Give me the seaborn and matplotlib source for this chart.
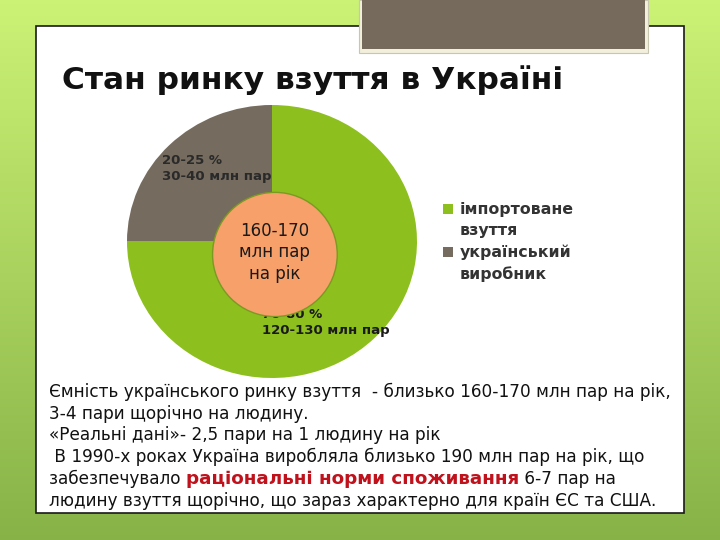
import numpy as np
import matplotlib
matplotlib.use("Agg")
import matplotlib.pyplot as plt
import seaborn as sns
from matplotlib.patches import Rectangle, Ellipse
from matplotlib.legend_handler import HandlerPatch

sns.set_theme(style="white")
plt.rcParams['font.family'] = ['DejaVu Sans']

# data
segments = ["імпортоване\nвзуття", "український\nвиробник"]
shares = [75, 25]
slice_labels = ["70-80 %\n120-130 млн пар", "20-25 %\n30-40 млн пар"]
center_label = "160-170\nмлн пар\nна рік"
title = "Стан ринку взуття в Україні"
body_lines = [
    "Ємність українського ринку взуття  - близько 160-170 млн пар на рік,",
    "3-4 пари щорічно на людину.",
    "«Реальні дані»- 2,5 пари на 1 людину на рік",
    " В 1990-х роках Україна виробляла близько 190 млн пар на рік, що",
]
line5 = ["забезпечувало ", "раціональні норми споживання", " 6-7 пар на"]
line6 = "людину взуття щорічно, що зараз характерно для країн ЄС та США."

colors = ["#8dbf1e", "#756b5e"]


def top_square(legend, orig_handle, xdescent, ydescent, width, height, fontsize):
    # put the square next to the first line of a two-line label
    return Rectangle((-xdescent, -ydescent + 0.72 * fontsize), width, height)


fig = plt.figure(figsize=(7.2, 5.4), dpi=100)

# slide background
bg = fig.add_axes([0, 0, 1, 1])
bg.set_xlim(0, 720)
bg.set_ylim(540, 0)
bg.axis("off")
grad = np.linspace(0, 1, 256)[:, None]
top = np.array([0.80, 0.95, 0.46])
bot = np.array([0.53, 0.70, 0.28])
img = top[None, None, :] * (1 - grad[..., None]) + bot[None, None, :] * grad[..., None]
img = np.repeat(img, 2, axis=1)
bg.imshow(img, extent=(0, 720, 540, 0), aspect="auto", zorder=0)
bg.add_patch(Rectangle((36, 26), 648, 487, facecolor="white", edgecolor="#1a1a1a", lw=1.2, zorder=1))
bg.add_patch(Rectangle((359, 0), 289, 53, facecolor="#f2f0dc", edgecolor="#c8c6b0", lw=0.8, zorder=2))
bg.add_patch(Rectangle((362, 0), 283, 49, facecolor="#756a5c", edgecolor="none", zorder=3))

bg.text(62, 80, title, fontsize=22.5, fontweight="bold", color="#111111", va="center", ha="left", zorder=4)

fs = 12.2
y0, dy = 392, 21.7
for i, line in enumerate(body_lines):
    bg.text(49, y0 + i * dy, line, fontsize=fs, color="#111111", va="center", ha="left", zorder=4)
t = bg.text(49, y0 + 4 * dy, line5[0], fontsize=fs, color="#111111", va="center", ha="left", zorder=4)
t2 = bg.annotate(line5[1], xy=(1, 0.5), xycoords=t, va="center", ha="left",
                 fontsize=13.2, fontweight="bold", color="#c0121c", zorder=4)
bg.annotate(line5[2], xy=(1, 0.5), xycoords=t2, va="center", ha="left",
            fontsize=fs, color="#111111", zorder=4)
bg.text(49, y0 + 5 * dy, line6, fontsize=fs, color="#111111", va="center", ha="left", zorder=4)

# pie
ax = fig.add_axes([127 / 720, 1 - 378 / 540, 290 / 720, 273 / 540])
wedges, _ = ax.pie(shares, colors=colors, startangle=180, counterclock=True,
                   wedgeprops=dict(linewidth=0))
ax.set_aspect("auto")
ax.set_xlim(-1, 1)
ax.set_ylim(-1, 1)

ax.text(-0.76, 0.64, slice_labels[1], fontsize=9.5, fontweight="bold", color="#2a2a2a",
        va="top", ha="left", linespacing=1.3, zorder=3)
ax.text(-0.07, -0.49, slice_labels[0], fontsize=9.5, fontweight="bold", color="#1a1a1a",
        va="top", ha="left", linespacing=1.3, zorder=3)
ax.add_patch(Ellipse((0.02, -0.095), 0.86, 0.91, facecolor="#f7a06a", edgecolor="#7a9a22",
                     lw=1, zorder=4))
ax.text(0.02, -0.08, center_label, fontsize=12, color="#1a1a1a", ha="center", va="center",
        linespacing=1.25, zorder=5)

leg = ax.legend(wedges, segments, loc="upper left", bbox_to_anchor=(429 / 720, 1 - 188 / 540),
                bbox_transform=fig.transFigure, frameon=False, handlelength=0.6, handleheight=0.6,
                handletextpad=0.45, labelspacing=0.45, prop=dict(size=11.3, weight="bold"),
                handler_map={w: HandlerPatch(patch_func=top_square) for w in wedges})
for txt in leg.get_texts():
    txt.set_color("#333333")
    txt.set_linespacing(1.45)

fig.savefig("out.png", dpi=100)
